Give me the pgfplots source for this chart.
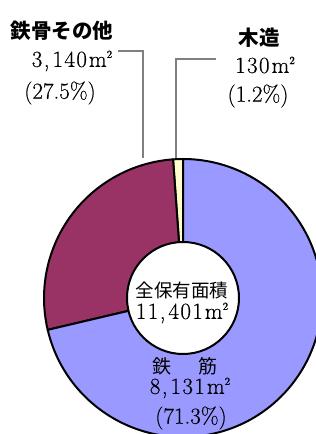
\documentclass[border=0pt]{standalone}
\usepackage{pgfplots}
\pgfplotsset{compat=1.18}
\usepackage{pgfplotstable}
\usepackage{fontspec}
\newfontfamily\jp{Noto Sans CJK JP}
\newfontfamily\numf{Latin Modern Roman}[LetterSpace=6,FakeBold=0.4]
\newfontfamily\pctf{Latin Modern Roman}[FakeBold=0.4]
\definecolor{rc}{HTML}{9999FF}
\definecolor{sr}{HTML}{993366}
\definecolor{wd}{HTML}{FFFFCC}
\definecolor{ld}{HTML}{808080}
\pgfplotstableread{
part value
rc 8131
src 3140
wood 130
}\areas
\newcommand{\num}{\numf\fontsize{23}{24}\selectfont}
\newcommand{\pct}{\pctf\fontsize{23}{24}\selectfont}
\newcommand{\cm}{,\kern3pt}
\newcommand{\sq}{\kern2pt m\raisebox{0.9ex}{\fontsize{11}{11}\selectfont 2}}
\begin{document}
\begin{tikzpicture}
\pgfplotstablegetelem{0}{value}\of\areas \let\vA\pgfplotsretval
\pgfplotstablegetelem{1}{value}\of\areas \let\vB\pgfplotsretval
\pgfplotstablegetelem{2}{value}\of\areas \let\vC\pgfplotsretval
\pgfmathsetmacro\tot{\vA+\vB+\vC}
\pgfmathsetmacro\aW{90+\vC/\tot*360}
\pgfmathsetmacro\aS{\aW+\vB/\tot*360}
\begin{axis}[width=316pt,height=434pt,scale only axis,
  xmin=0,xmax=316,ymin=0,ymax=434,hide axis,clip=true]
% wedges (counterclockwise from top)
\filldraw[fill=wd,draw=black,line width=2pt,line join=round] (axis cs:183,136) -- ++(90:139pt) arc[start angle=90,end angle=\aW,radius=139pt] -- cycle;
\filldraw[fill=sr,draw=black,line width=2pt,line join=round] (axis cs:183,136) -- ++(\aW:139pt) arc[start angle=\aW,end angle=\aS,radius=139pt] -- cycle;
\filldraw[fill=rc,draw=black,line width=2pt,line join=round] (axis cs:183,136) -- ++(\aS:139pt) arc[start angle=\aS,end angle=450,radius=139pt] -- cycle;
\filldraw[fill=white,draw=black,line width=2pt] (axis cs:183,136) circle[radius=56pt];
% leader lines
\draw[ld,line width=1.2pt] (axis cs:118,383) -- (axis cs:143,383) -- (axis cs:143,276);
\draw[ld,line width=1.2pt] (axis cs:216,375) -- (axis cs:176,375) -- (axis cs:176,276);
% labels
\node[font=\jp\bfseries\fontsize{20.5}{21}\selectfont] at (axis cs:62,403) {鉄骨その他};
\node[font=\num] at (axis cs:72,373) {3\cm140\sq};
\node[font=\pct] at (axis cs:60,341) {(27.5\%)};
\node[font=\jp\bfseries\fontsize{20.5}{21}\selectfont] at (axis cs:259,396) {木造};
\node[font=\num] at (axis cs:265,369) {130\sq};
\node[font=\pct] at (axis cs:258,338) {(1.2\%)};
\node[font=\jp\fontsize{18.5}{19}\selectfont] at (axis cs:182,144) {全保有面積};
\node[font=\num] at (axis cs:182,121) {11\cm401\sq};
\node[font=\jp\fontsize{19}{20}\selectfont] at (axis cs:185,68) {鉄\hspace{27pt}筋};
\node[font=\num] at (axis cs:190,46) {8\cm131\sq};
\node[font=\pct] at (axis cs:191,16) {(71.3\%)};
\end{axis}
\pgfresetboundingbox
\useasboundingbox (current axis.south west) rectangle (current axis.north east);
\end{tikzpicture}
\end{document}
